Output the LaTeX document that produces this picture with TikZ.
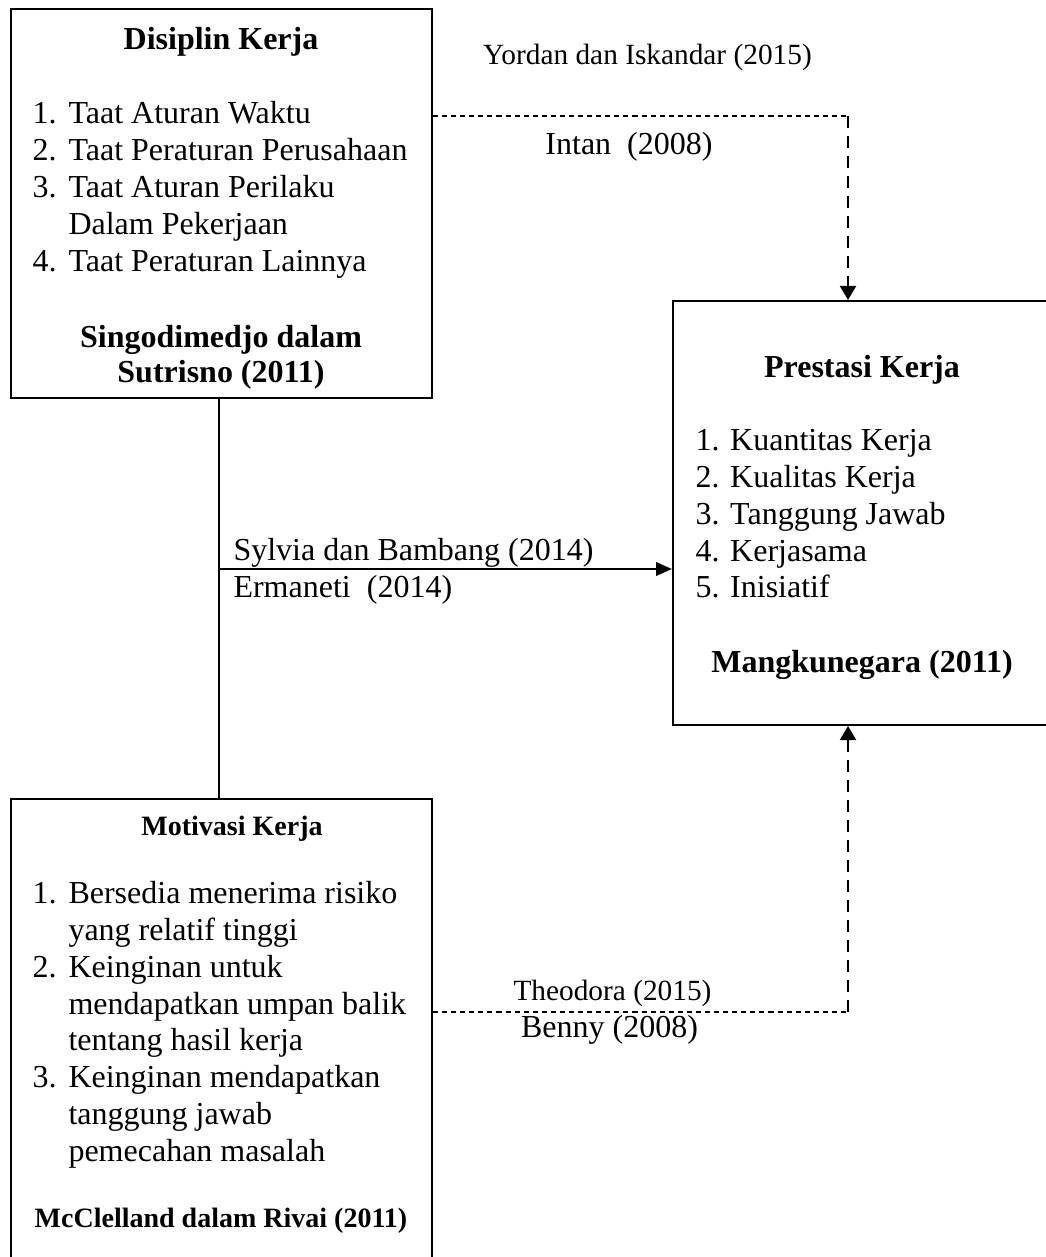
\documentclass[tikz,border=0pt]{standalone}
\usepackage{fontspec}
\setmainfont{Liberation Serif}
\usetikzlibrary{shapes,arrows.meta}
\tikzstyle{r} = [rectangle, draw=black, line width=0.75pt]
\tikzstyle{t} = [inner sep=0pt, align=left, anchor=north west, font=\fontsize{12}{13.85}\selectfont]
\tikzstyle{h} = [inner sep=0pt, anchor=base, font=\fontsize{12}{13.2}\selectfont\bfseries]
\tikzstyle{hs} = [inner sep=0pt, anchor=base, font=\fontsize{10.5}{12}\selectfont\bfseries]
\tikzstyle{lbl} = [inner sep=0pt, anchor=base, font=\fontsize{12}{14}\selectfont]
\tikzstyle{ds} = [dash pattern=on 1.9pt off 1.5pt, line width=0.6pt]
\tikzstyle{dv} = [dash pattern=on 4.5pt off 3pt, line width=0.9pt]
\newcommand{\nr}[1]{\makebox[13.5pt][l]{#1}}

\begin{document}
\begin{tikzpicture}[x=0.375pt,y=-0.375pt,>={Triangle[length=5.3pt,width=6pt]}]
		\useasboundingbox (0,0) rectangle (1046,1257);
		\clip (0,0) rectangle (1046,1257);
		% kotak
		\node[r,minimum width=157.875pt,minimum height=145.875pt](1) at (221.5,203.5){};
		\node[r,minimum width=141.75pt,minimum height=159pt](2) at (862,513){};
		\node[r,minimum width=157.875pt,minimum height=184.125pt](3) at (221.5,1044.5){};
		
		\node[h](1a) at (221,50){Disiplin Kerja};
		\node[t](1b) at (32,101){\nr{1.}Taat Aturan Waktu\\\nr{2.}Taat Peraturan Perusahaan\\\nr{3.}Taat Aturan Perilaku\\\nr{}Dalam Pekerjaan\\\nr{4.}Taat Peraturan Lainnya};
		\node[h,anchor=north,align=center](1c) at (221,325){Singodimedjo dalam\\Sutrisno (2011)};
		
		\node[h](2a) at (862,378){Prestasi Kerja};
		\node[t,font=\fontsize{12}{13.8}\selectfont](2b) at (695,429){1. Kuantitas Kerja\\2. Kualitas Kerja\\3. Tanggung Jawab\\4. Kerjasama\\5. Inisiatif};
		\node[h](2c) at (862,672){Mangkunegara (2011)};
		
		\node[hs](3a) at (232,835){Motivasi Kerja};
		\node[t,font=\fontsize{12}{13.8}\selectfont](3b) at (32,881){\nr{1.}Bersedia menerima risiko\\\nr{}yang relatif tinggi\\\nr{2.}Keinginan untuk\\\nr{}mendapatkan umpan balik\\\nr{}tentang hasil kerja\\\nr{3.}Keinginan mendapatkan\\\nr{}tanggung jawab\\\nr{}pemecahan masalah};
		\node[hs](3c) at (221,1227){McClelland dalam Rivai (2011)};
		
		% label
		\node[lbl,font=\fontsize{11}{13}\selectfont](4) at (647.5,65){Yordan dan Iskandar (2015)};
		\node[lbl](5) at (629,155){Intan\ \ (2008)};
		\node[lbl,anchor=base west](6) at (233,560){Sylvia dan Bambang (2014)};
		\node[lbl,anchor=base west](7) at (233,597){Ermaneti\ \ (2014)};
		\node[lbl,font=\fontsize{11}{13}\selectfont](8) at (612.5,1000){Theodora (2015)};
		\node[lbl](9) at (609.5,1037){Benny (2008)};
		
		\coordinate (j) at (219,569);
		\coordinate (c1) at (848,116);
		\coordinate (c2) at (848,1012);
		
		\draw[line width=0.75pt] (1.south -| j)--(3.north -| j);
		\draw[-{Triangle[length=6pt,width=5pt]},line width=1pt] (j)--(j -| 2.west);
		\draw[ds] (1.east |- c1)--(c1);
		\draw[dv,->] (c1)--(c1 |- 2.north);
		\draw[ds] (3.east |- c2)--(c2);
		\draw[dv,->] (c2)--(c2 |- 2.south);
\end{tikzpicture}
\end{document}
